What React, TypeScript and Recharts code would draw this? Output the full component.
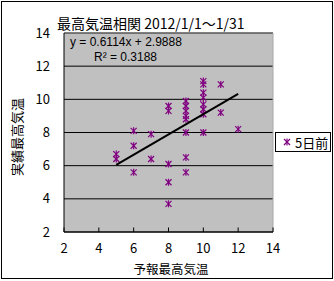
import { ScatterChart, Scatter, XAxis, YAxis, CartesianGrid, ReferenceLine } from "recharts";

// 予報最高気温 (5日前) vs 実績最高気温, 2012/1/1～1/31
const forecast = [5, 5, 6, 6, 6, 7, 7, 8, 8, 8, 8, 8, 9, 9, 9, 9, 9, 9, 9, 9, 10, 10, 10, 10, 10, 10, 10, 10, 11, 11, 12];
const actual = [6.7, 6.4, 8.1, 7.2, 5.6, 7.9, 6.4, 9.6, 9.3, 6.1, 5.0, 3.7, 9.9, 9.6, 9.3, 9.0, 8.8, 8.0, 6.5, 5.6, 11.1, 10.9, 10.4, 10.1, 9.7, 9.4, 9.1, 8.0, 10.9, 9.2, 8.2];
const xTicks = [2, 4, 6, 8, 10, 12, 14];
const yTicks = [2, 4, 6, 8, 10, 12, 14];
const slope = 0.6114;
const intercept = 2.9888;
const r2 = 0.3188;
const trendX = [5, 12];

const points = forecast.map((x, i) => ({ x, y: actual[i] }));
const trend = trendX.map((x) => ({ x, y: slope * x + intercept }));

const PURPLE = "#800080";
const FONT = "'Noto Sans CJK JP', sans-serif";
const NUMFONT = "'Liberation Sans', Arial, sans-serif";

function Star({ cx, cy }: any) {
  return (
    <g stroke={PURPLE} strokeWidth={1.2}>
      <line x1={cx} y1={cy - 3.5} x2={cx} y2={cy + 3.5} />
      <line x1={cx - 3} y1={cy - 3} x2={cx + 3} y2={cy + 3} />
      <line x1={cx - 3} y1={cy + 3} x2={cx + 3} y2={cy - 3} />
    </g>
  );
}

function XTick({ x, y, payload }: any) {
  return (
    <g>
      <line x1={x} x2={x} y1={y - 11.5} y2={y - 16} stroke="#000" />
      <text x={x} y={y} dy="0.71em" textAnchor="middle" fontSize={13} fill="#000">
        {payload.value}
      </text>
    </g>
  );
}

export default function App() {
  return (
    <div
      style={{
        position: "fixed",
        left: 0,
        top: 0,
        width: 334,
        height: 281,
        background: "#fff",
        fontFamily: FONT,
        color: "#000",
      }}
    >
      <div
        style={{
          position: "absolute",
          left: 1,
          top: 1,
          width: 332,
          height: 278,
          boxSizing: "border-box",
          border: "1px solid #000",
        }}
      />
      <ScatterChart width={334} height={281} margin={{ top: 33, right: 61, bottom: 0, left: 0 }}>
        <CartesianGrid horizontal vertical={false} stroke="#000" fill="#c0c0c0" />
        <ReferenceLine y={14} stroke="#808080" />
        <ReferenceLine x={14} stroke="#a8a8a8" />
        <XAxis
          type="number"
          dataKey="x"
          domain={[2, 14]}
          ticks={xTicks}
          height={49}
          axisLine={{ stroke: "#000" }}
          tickLine={false}
          tickSize={4}
          tickMargin={7.5}
          tick={<XTick />}
        />
        <YAxis
          type="number"
          dataKey="y"
          domain={[2, 14]}
          ticks={yTicks}
          width={64}
          axisLine={{ stroke: "#000" }}
          tickLine={false}
          tickSize={0}
          tickMargin={14}
          tick={{ fill: "#000", fontSize: 13 }}
        />
        <Scatter name="5日前" data={points} shape={<Star />} isAnimationActive={false} />
        <Scatter
          data={trend}
          line={{ stroke: "#000", strokeWidth: 2 }}
          shape={() => <g />}
          legendType="none"
          isAnimationActive={false}
        />
      </ScatterChart>
      <div
        style={{
          position: "absolute",
          left: 275,
          top: 132,
          width: 56,
          height: 20,
          boxSizing: "border-box",
          border: "1px solid #000",
          background: "#fff",
          display: "flex",
          alignItems: "center",
          fontSize: 13,
          lineHeight: "13px",
        }}
      >
        <svg width={14} height={10} style={{ marginLeft: 5 }}>
          <Star cx={6} cy={5} />
        </svg>
        <span>5日前</span>
      </div>
      <div
        style={{
          position: "absolute",
          left: 57,
          top: 16,
          fontSize: 14,
          lineHeight: "14px",
          whiteSpace: "nowrap",
        }}
      >
        最高気温相関 2012/1/1～1/31
      </div>
      <div
        style={{
          position: "absolute",
          left: 16,
          top: 137,
          transform: "translate(-50%, -50%) rotate(-90deg)",
          fontSize: 13,
          lineHeight: "13px",
          whiteSpace: "nowrap",
        }}
      >
        実績最高気温
      </div>
      <div
        style={{
          position: "absolute",
          left: 171,
          top: 268,
          transform: "translate(-50%, -50%)",
          fontSize: 12.5,
          lineHeight: "13px",
          whiteSpace: "nowrap",
        }}
      >
        予報最高気温
      </div>
      <div
        style={{
          position: "absolute",
          left: 70,
          top: 36,
          fontFamily: NUMFONT,
          fontSize: 12,
          lineHeight: "12px",
          whiteSpace: "nowrap",
        }}
      >
        {`y = ${slope}x + ${intercept}`}
      </div>
      <div
        style={{
          position: "absolute",
          left: 94,
          top: 51,
          fontFamily: NUMFONT,
          fontSize: 12,
          lineHeight: "12px",
          whiteSpace: "nowrap",
        }}
      >
        {`R² = ${r2}`}
      </div>
    </div>
  );
}
